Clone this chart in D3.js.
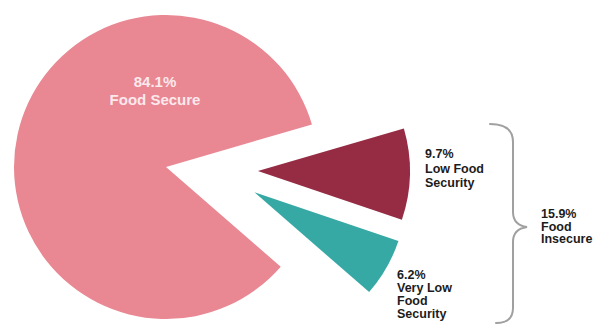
<!DOCTYPE html>
<html>
<head>
<meta charset="utf-8">
<script src="https://cdn.jsdelivr.net/npm/d3@7"></script>
<style>
  body { margin: 0; background: #fff; }
  #root { width: 597px; height: 325px; }
  text { font-family: "Liberation Sans", Arial, sans-serif; font-weight: bold; }
</style>
</head>
<body>
<div id="root"></div>
<script>
const root = document.getElementById('root');

// Data
const categories = ['Food Secure', 'Low Food Security', 'Very Low Food Security'];
const values = [84.1, 9.7, 6.2];
const colors = ['#e98793', '#952c44', '#37a9a5'];
const groupLabel = ['15.9%', 'Food', 'Insecure'];

const buildChart = () => {
    const width = 597;
    const height = 325;
    const cx = 166;
    const cy = 167;
    const radius = 152;

    // where the exploded slices sit (distance, direction in degrees below horizontal)
    const explode = [
        { dist: 0, dir: 0 },
        { dist: 92, dir: 2.5 },
        { dist: 92, dir: 16 }
    ];

    const svg = d3.select(root)
        .append('svg')
        .attr('width', width)
        .attr('height', height);

    const start = 131 * Math.PI / 180;
    const pie = d3.pie()
        .sort(null)
        .startAngle(start)
        .endAngle(start + 2 * Math.PI);

    const arc = d3.arc()
        .innerRadius(0)
        .outerRadius(radius);

    const slices = pie(values);

    svg.selectAll('.slice')
        .data(slices)
        .enter()
        .append('path')
        .attr('class', 'slice')
        .attr('transform', (d, i) => {
            const a = explode[i].dir * Math.PI / 180;
            const x = cx + explode[i].dist * Math.cos(a);
            const y = cy + explode[i].dist * Math.sin(a);
            return `translate(${x},${y})`;
        })
        .attr('fill', (d, i) => colors[i])
        .attr('d', arc);

    // Label inside the big slice
    const inner = svg.append('text')
        .attr('text-anchor', 'middle')
        .attr('fill', '#fbe9ec')
        .attr('font-size', '15px');
    inner.append('tspan')
        .attr('x', 155).attr('y', 87)
        .text(values[0] + '%');
    inner.append('tspan')
        .attr('x', 155).attr('y', 105)
        .text(categories[0]);

    // Labels for the exploded slices
    const sideLabel = (x, y, lines, lh) => {
        const t = svg.append('text')
            .attr('fill', '#1c1c1c')
            .attr('font-size', '12.5px');
        lines.forEach((s, k) => {
            t.append('tspan')
                .attr('x', x)
                .attr('y', y + k * lh)
                .text(s);
        });
    };
    sideLabel(425, 158, [values[1] + '%', 'Low Food', 'Security'], 14.5);
    sideLabel(397, 279, [values[2] + '%', 'Very Low', 'Food', 'Security'], 13);
    sideLabel(541, 218, groupLabel, 12.5);

    // Brace
    const bx = 513;
    svg.append('path')
        .attr('fill', 'none')
        .attr('stroke', '#a0a0a0')
        .attr('stroke-width', 2)
        .attr('stroke-linecap', 'round')
        .attr('d', `M490,124 Q${bx},124 ${bx},142 L${bx},212 Q${bx},225 527,227 Q${bx},229 ${bx},242 L${bx},308 Q${bx},323 496,323`);
};

buildChart();
</script>
</body>
</html>
